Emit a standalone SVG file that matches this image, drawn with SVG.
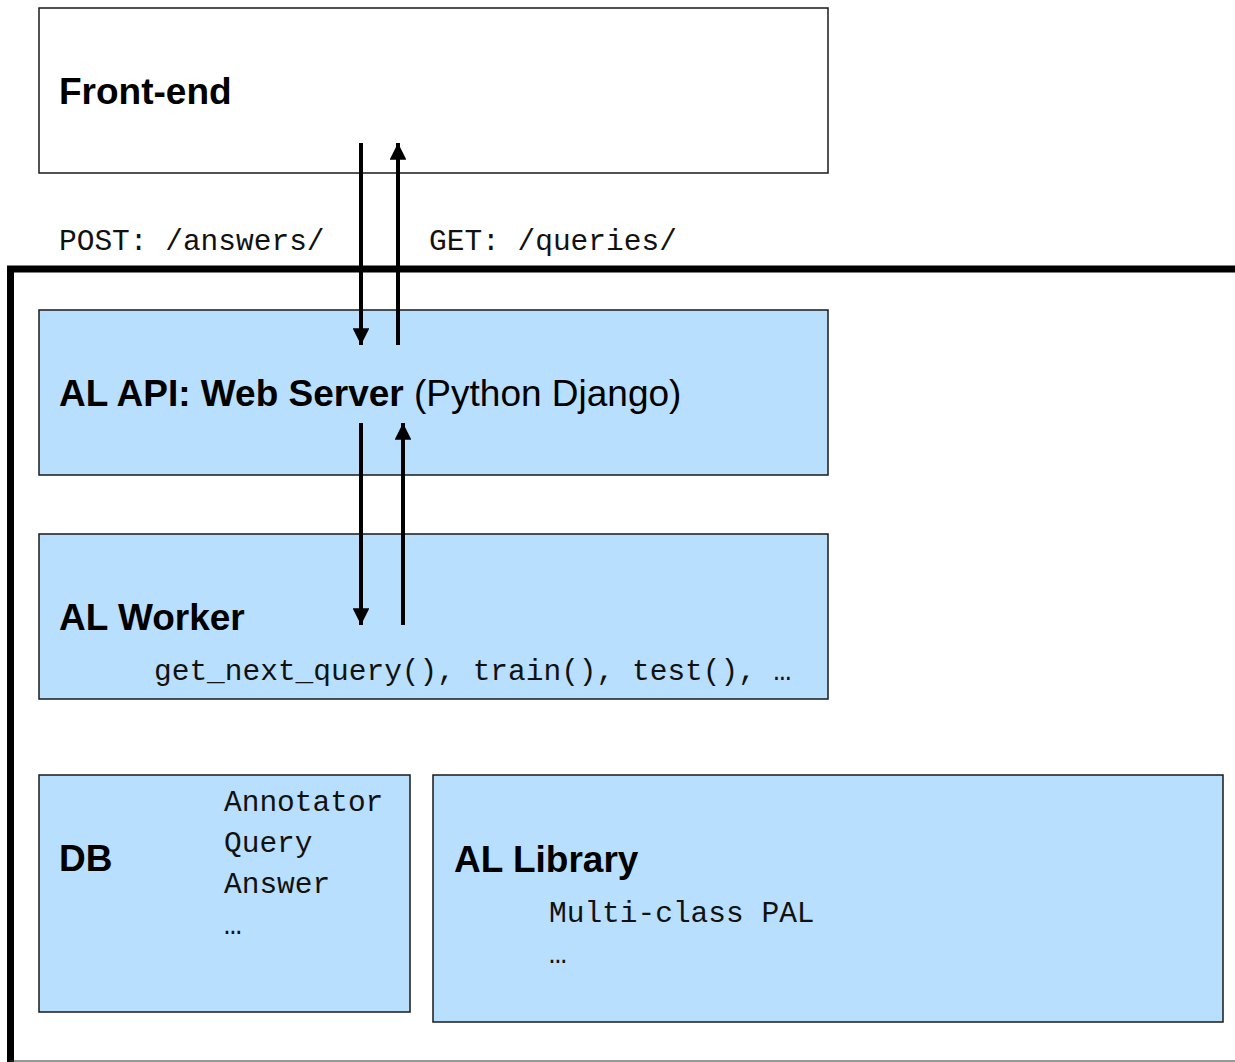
<svg xmlns="http://www.w3.org/2000/svg" width="1235" height="1062" viewBox="0 0 1235 1062">
  <style>
    .box { fill: #b8dffd; stroke: #1a1a1a; stroke-width: 1.5; }
    .plain { fill: #ffffff; stroke: #1a1a1a; stroke-width: 1.5; }
    .title { font-family: "Liberation Sans", Arial, sans-serif; font-size: 37px; font-weight: bold; fill: #000; }
    .reg { font-weight: normal; }
    .mono { font-family: "Liberation Mono", "Courier New", monospace; font-size: 29.5px; fill: #111; }
    .conn { stroke: #000; stroke-width: 4; fill: none; }
    .frame { stroke: #000; stroke-width: 7; fill: none; }
  </style>
  <defs>
    <marker id="head" viewBox="0 0 10 10" refX="10" refY="5" markerWidth="4.2" markerHeight="4.2" markerUnits="strokeWidth" orient="auto">
      <path d="M0,0 L10,5 L0,10 z" fill="#000"/>
    </marker>
  </defs>

  <rect width="1235" height="1062" fill="#ffffff"/>

  <!-- backend boundary -->
  <g id="backend-frame">
    <path class="frame" d="M10.5,1062 L10.5,269 L1235,269"/>
    <line x1="10" y1="1061" x2="1235" y2="1061" stroke="#333" stroke-width="1"/>
  </g>

  <g id="frontend">
    <rect class="plain" x="39" y="8" width="789" height="165"/>
    <text class="title" x="59" y="104">Front-end</text>
  </g>

  <g id="labels">
    <text class="mono" x="59" y="250">POST: /answers/</text>
    <text class="mono" x="429" y="250">GET: /queries/</text>
  </g>

  <g id="api">
    <rect class="box" x="39" y="310" width="789" height="165"/>
    <text class="title" x="59" y="406">AL API: Web Server <tspan class="reg">(Python Django)</tspan></text>
  </g>

  <g id="worker">
    <rect class="box" x="39" y="534" width="789" height="165"/>
    <text class="title" x="59" y="630">AL Worker</text>
    <text class="mono" x="154" y="680">get_next_query(), train(), test(), …</text>
  </g>

  <g id="db">
    <rect class="box" x="39" y="775" width="371" height="237"/>
    <text class="title" x="59" y="871">DB</text>
    <text class="mono" x="224" y="811">Annotator</text>
    <text class="mono" x="224" y="852">Query</text>
    <text class="mono" x="224" y="893">Answer</text>
    <text class="mono" x="224" y="934">…</text>
  </g>

  <g id="library">
    <rect class="box" x="433" y="775" width="790" height="247"/>
    <text class="title" x="454" y="872">AL Library</text>
    <text class="mono" x="549" y="922">Multi-class PAL</text>
    <text class="mono" x="549" y="963">…</text>
  </g>

  <g id="connectors">
    <line class="conn" x1="361" y1="143" x2="361" y2="345" marker-end="url(#head)"/>
    <line class="conn" x1="398" y1="345" x2="398" y2="143" marker-end="url(#head)"/>
    <line class="conn" x1="361" y1="423" x2="361" y2="625" marker-end="url(#head)"/>
    <line class="conn" x1="403" y1="625" x2="403" y2="423" marker-end="url(#head)"/>
  </g>
</svg>
